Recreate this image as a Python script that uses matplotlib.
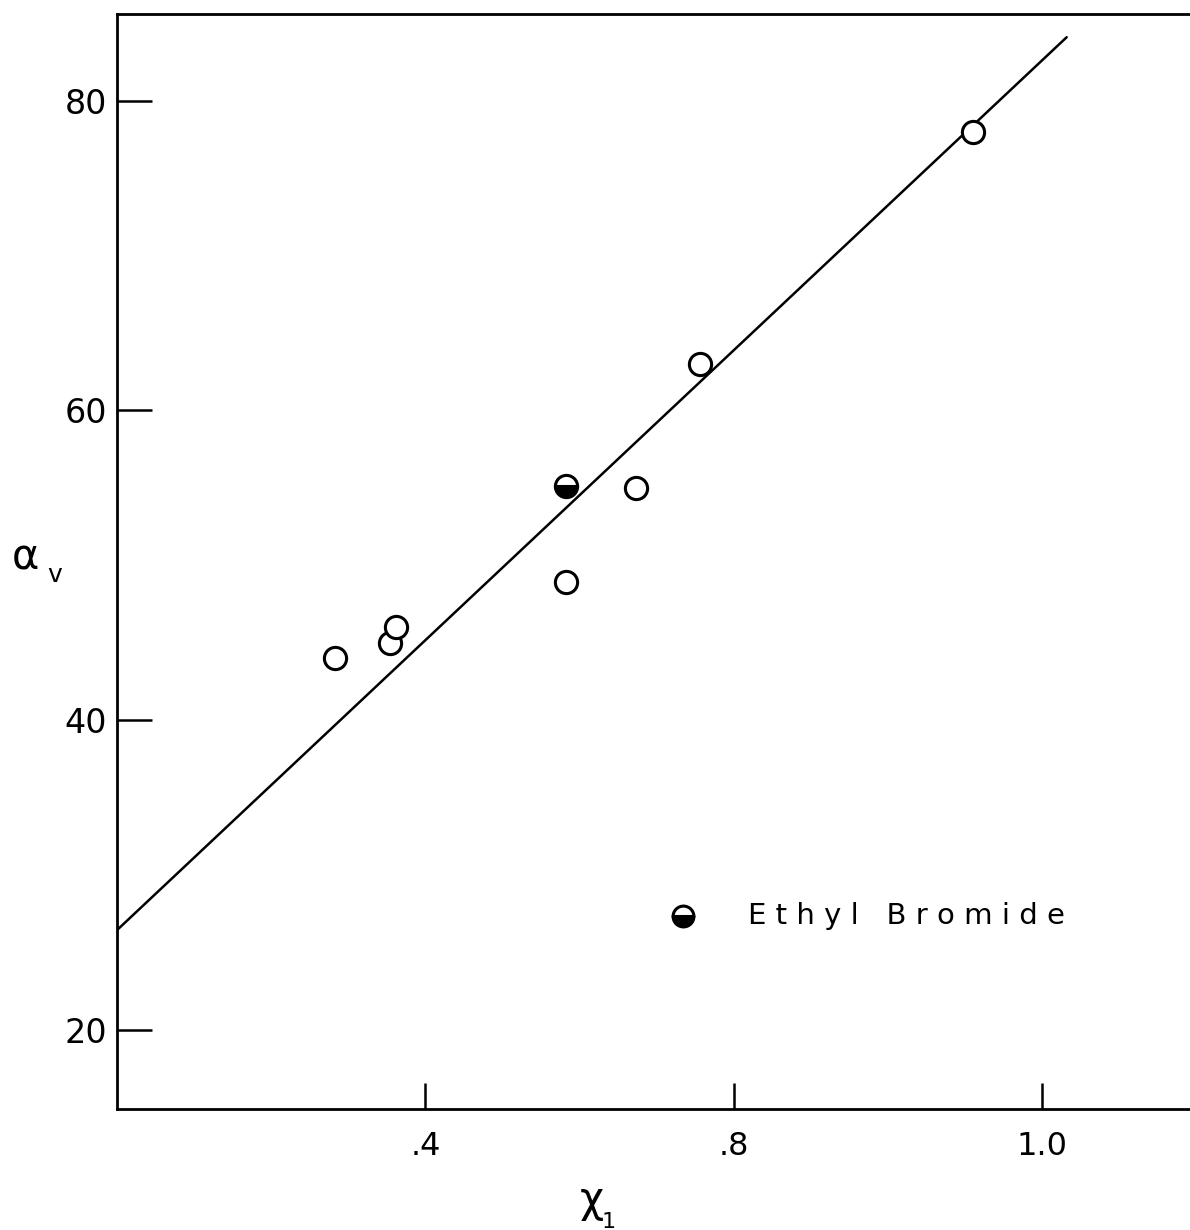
import matplotlib
matplotlib.use("Agg")
import matplotlib.pyplot as plt

# measured points: volume fraction vs alpha_v
x_open = [0.283, 0.354, 0.362, 0.582, 0.673, 0.756, 1.110]
y_open = [44.0, 45.0, 46.0, 48.9, 55.0, 63.0, 78.0]

# ethyl bromide (half-filled symbol)
x_ebr = [0.582]
y_ebr = [55.1]

# least-squares line end points
x_fit = [0.0, 1.232]
y_fit = [26.45, 84.1]

xticks = [0.4, 0.8, 1.2]
xtick_labels = [".4", ".8", "1.0"]
yticks = [20, 40, 60, 80]
ytick_labels = ["20", "40", "60", "80"]

legend_x, legend_y = 0.734, 27.35
legend_text = "E t h y l   B r o m i d e"

plt.rcParams["font.family"] = ["DejaVu Sans"]

fig = plt.figure(figsize=(11.9, 12.3), dpi=100)
ax = fig.add_axes([117 / 1190, 121 / 1230, 1073 / 1190, 1095 / 1230])

ax.plot(x_fit, y_fit, color="black", lw=1.8, solid_capstyle="round")
ax.plot(x_open, y_open, "o", ms=16, mfc="white", mec="black", mew=2.2)
ax.plot(x_ebr, y_ebr, "o", ms=16, fillstyle="bottom", mfc="black",
        mfcalt="white", mec="black", mew=2.2)

# key
ax.plot([legend_x], [legend_y], "o", ms=15, fillstyle="bottom", mfc="black",
        mfcalt="white", mec="black", mew=2.2)
ax.text(legend_x + 0.084, legend_y, legend_text, fontsize=21,
        va="center", ha="left")

ax.set_xlim(0, 1.392)
ax.set_ylim(14.9, 85.6)

ax.set_xticks(xticks)
ax.set_xticklabels(xtick_labels)
ax.set_yticks(yticks)
ax.set_yticklabels(ytick_labels)
ax.tick_params(axis="x", direction="in", length=19, width=1.8,
               labelsize=23, pad=16)
ax.tick_params(axis="y", direction="in", length=25, width=1.8,
               labelsize=24, pad=7)

for side in ["left", "bottom", "top"]:
    ax.spines[side].set_linewidth(2.0)
ax.spines["right"].set_visible(False)

# axis symbols
fig.text(25 / 1190, 1 - 557 / 1230, "α", fontsize=30, ha="center", va="center")
fig.text(55 / 1190, 1 - 575 / 1230, "v", fontsize=18, ha="center", va="center")
fig.text(592 / 1190, 1 - 1200 / 1230, "χ", fontsize=30, ha="center", va="center")
fig.text(609 / 1190, 1 - 1222 / 1230, "1", fontsize=16, ha="center", va="center")

fig.savefig("out.png", dpi=100)
